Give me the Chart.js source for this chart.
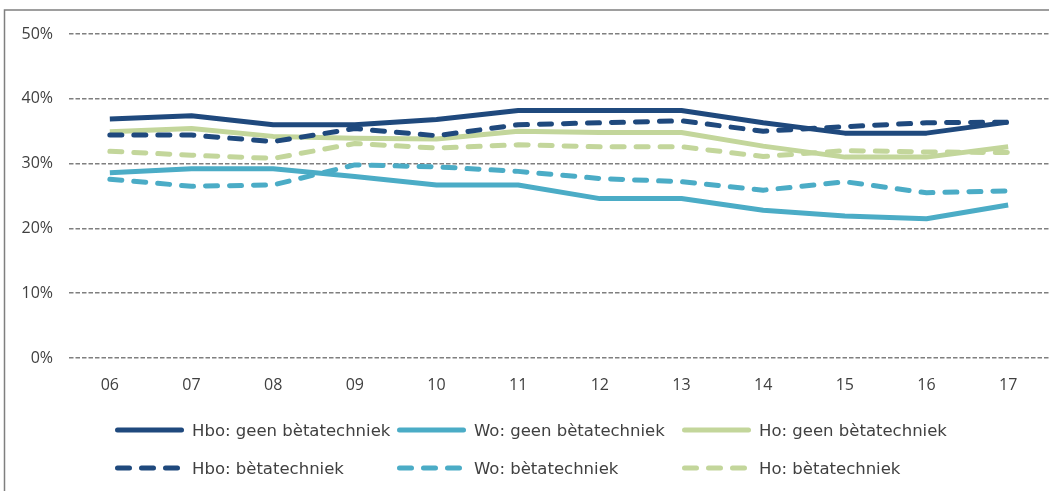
<!DOCTYPE html>
<html>
<head>
<meta charset="utf-8">
<script src="https://cdn.jsdelivr.net/npm/chart.js@4/dist/chart.umd.min.js"></script>
<style>
  html, body { margin: 0; padding: 0; background: #fff; overflow: hidden; }
  #wrap { position: relative; width: 1049px; height: 491px; }
</style>
</head>
<body>
<div id="wrap"><canvas id="c" width="1049" height="491"></canvas></div>
<script>
// School years (20xx)
const years = ['06', '07', '08', '09', '10', '11', '12', '13', '14', '15', '16', '17'];

// Share per group, in percent
const hboGeen = [36.9, 37.4, 36.0, 36.0, 36.8, 38.2, 38.2, 38.2, 36.3, 34.7, 34.7, 36.4];
const woGeen  = [28.6, 29.2, 29.2, 28.0, 26.7, 26.7, 24.6, 24.6, 22.8, 21.9, 21.5, 23.6];
const hoGeen  = [34.9, 35.4, 34.2, 33.9, 33.8, 35.0, 34.8, 34.8, 32.7, 31.0, 31.0, 32.6];
const hboBeta = [34.4, 34.4, 33.4, 35.4, 34.3, 36.0, 36.3, 36.6, 35.0, 35.7, 36.3, 36.4];
const woBeta  = [27.6, 26.5, 26.7, 29.8, 29.5, 28.8, 27.7, 27.2, 25.9, 27.2, 25.5, 25.8];
const hoBeta  = [31.9, 31.3, 30.8, 33.1, 32.4, 32.9, 32.6, 32.6, 31.1, 32.0, 31.8, 31.7];

const yTicks = [0, 10, 20, 30, 40, 50];

const NAVY = '#1f497d';
const TEAL = '#4bacc6';
const GREEN = '#c3d69b';
const TEXT = '#404040';
const DASH = [12, 12];
const TICK_FONT = { family: '"Open Sans"', size: 16 };

function series(label, data, color, dashed) {
  return {
    label, data,
    borderColor: color,
    backgroundColor: color,
    borderWidth: 5,
    borderDash: dashed ? DASH : [],
    borderCapStyle: dashed ? 'round' : 'butt',
    borderJoinStyle: 'round',
    pointRadius: 0,
    pointHoverRadius: 0,
    tension: 0,
    fill: false,
    order: dashed ? 0 : 1
  };
}

// Outer frame around the figure
const framePlugin = {
  id: 'frame',
  beforeDraw(chart) {
    const ctx = chart.ctx;
    ctx.save();
    ctx.strokeStyle = '#7f7f7f';
    ctx.lineWidth = 1.5;
    ctx.strokeRect(4.5, 10, chart.width + 20, chart.height + 20);
    ctx.restore();
  }
};

// Two-row legend with line samples in the series' own stroke styles
const legendPlugin = {
  id: 'lineLegend',
  afterDraw(chart) {
    const ctx = chart.ctx;
    const cols = [115, 397, 682];
    const rows = [430, 468];
    const sampleLen = 69;
    ctx.save();
    chart.data.datasets.forEach((ds, i) => {
      const x = cols[i % 3];
      const y = rows[Math.floor(i / 3)];
      ctx.strokeStyle = ds.borderColor;
      ctx.lineWidth = 5;
      ctx.lineCap = 'round';
      ctx.setLineDash(ds.borderDash);
      ctx.beginPath();
      ctx.moveTo(x + 2.5, y);
      ctx.lineTo(x + sampleLen - 2.5, y);
      ctx.stroke();
      ctx.setLineDash([]);
      ctx.fillStyle = TEXT;
      ctx.font = '16.5px "DejaVu Sans"';
      ctx.textBaseline = 'middle';
      ctx.textAlign = 'left';
      ctx.fillText(ds.label, x + 77, y + 2);
    });
    ctx.restore();
  }
};

new Chart(document.getElementById('c'), {
  type: 'line',
  data: {
    labels: years,
    datasets: [
      series('Hbo: geen bètatechniek', hboGeen, NAVY, false),
      series('Wo: geen bètatechniek', woGeen, TEAL, false),
      series('Ho: geen bètatechniek', hoGeen, GREEN, false),
      series('Hbo: bètatechniek', hboBeta, NAVY, true),
      series('Wo: bètatechniek', woBeta, TEAL, true),
      series('Ho: bètatechniek', hoBeta, GREEN, true)
    ]
  },
  options: {
    responsive: false,
    devicePixelRatio: 1,
    animation: false,
    layout: { padding: { top: 34, right: 0, bottom: 88, left: 0 } },
    plugins: {
      legend: { display: false },
      tooltip: { enabled: false },
      title: { display: false }
    },
    scales: {
      x: {
        offset: true,
        grid: { display: false, drawTicks: false },
        border: { display: false },
        ticks: { color: TEXT, font: TICK_FONT, padding: 18, maxRotation: 0 },
        afterFit(s) { s.height = 45; }
      },
      y: {
        min: 0,
        max: 50,
        afterBuildTicks(s) { s.ticks = yTicks.map(v => ({ value: v })); },
        grid: { color: '#7f7f7f', lineWidth: 1.5, drawTicks: false },
        border: { display: false, dash: [4.5, 2] },
        ticks: {
          color: TEXT,
          font: TICK_FONT,
          padding: 16,
          callback: v => v + '%'
        },
        afterFit(s) { s.width = 69; }
      }
    }
  },
  plugins: [framePlugin, legendPlugin]
});
</script>
</body>
</html>
